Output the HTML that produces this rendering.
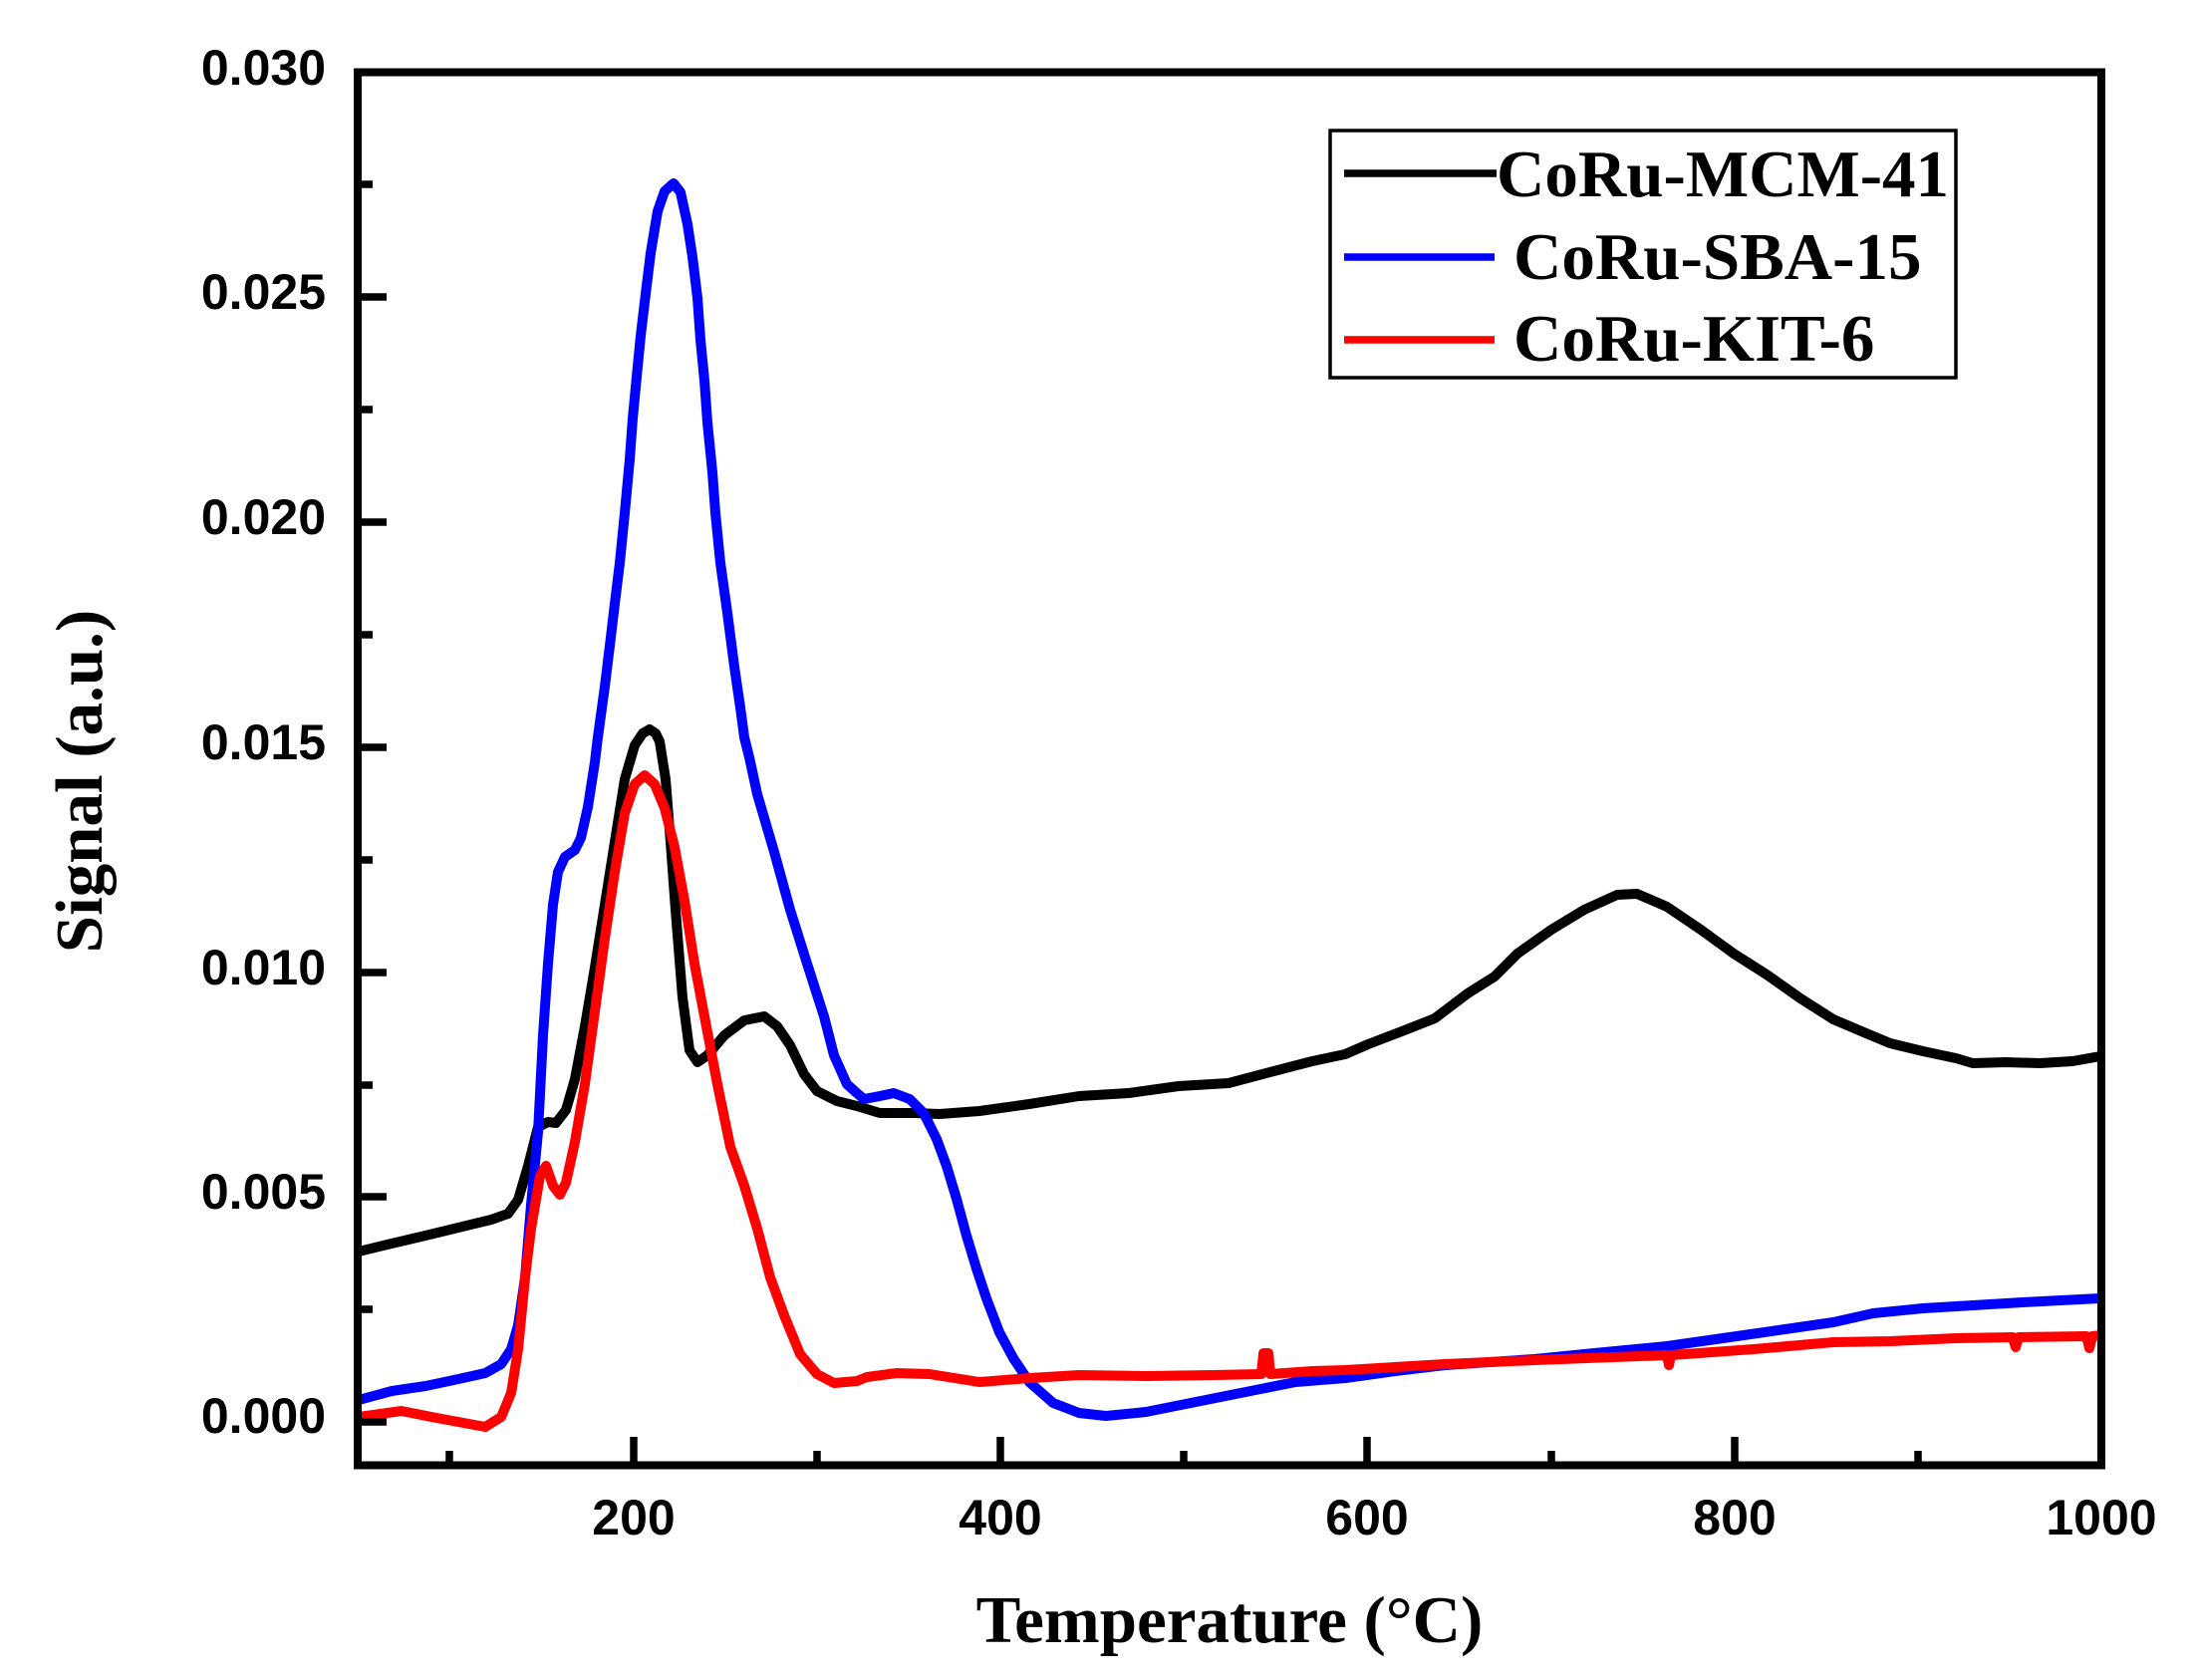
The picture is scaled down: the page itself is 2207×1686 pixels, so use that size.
<!DOCTYPE html>
<html>
<head>
<meta charset="utf-8">
<style>
html,body{margin:0;padding:0;background:#fff;}
svg{display:block;}
.tk{font-family:"Liberation Sans",Arial,sans-serif;font-weight:bold;font-size:50px;fill:#000;}
.ttl{font-family:"Liberation Serif","Times New Roman",serif;font-weight:bold;font-size:67px;fill:#000;}
</style>
</head>
<body>
<svg width="2207" height="1686" viewBox="0 0 2207 1686" xmlns="http://www.w3.org/2000/svg">
<rect x="0" y="0" width="2207" height="1686" fill="#fff"/>
<defs>
<clipPath id="pc"><rect x="363" y="76" width="1742" height="1391"/></clipPath>
</defs>

<g clip-path="url(#pc)" fill="none" stroke-width="10" stroke-linejoin="round" stroke-linecap="round">
<polyline stroke="#000" points="360,1256 393,1248 427,1240 460,1232 493,1224 510,1218 520,1204 530,1170 540,1131 550,1126 558,1127 568,1114 577,1083 587,1030 597,971 607,908 617,845 627,782 637,748 645,736 652,732 658,736 662,744 668,782 673,845 678,913 685,1001 692,1054 700,1066 710,1059 727,1039 747,1024 767,1020 780,1030 793,1049 807,1078 820,1095 840,1105 860,1110 883,1117 917,1117 943,1118 983,1115 1033,1108 1083,1100 1133,1097 1183,1090 1233,1087 1267,1078 1317,1065 1350,1058 1373,1048 1407,1035 1440,1022 1473,997 1500,980 1523,957 1557,933 1590,913 1623,898 1643,897 1673,910 1707,933 1740,957 1773,978 1807,1002 1840,1023 1873,1037 1897,1047 1930,1055 1963,1062 1980,1067 2013,1066 2047,1067 2080,1065 2108,1060"/>
<polyline stroke="#0000ff" points="360,1405 393,1396 427,1391 460,1384 487,1378 503,1369 513,1354 520,1330 527,1282 533,1209 540,1136 545,1039 550,967 555,908 560,875 567,860 577,853 583,841 590,810 597,765 600,740 607,689 612,648 617,606 622,565 627,515 632,461 635,420 639,378 643,337 648,295 653,254 660,212 667,192 676,184 683,193 690,225 695,258 700,299 703,341 707,382 710,424 715,474 718,515 723,565 730,615 737,669 743,710 747,740 752,760 760,797 777,855 793,913 810,967 827,1020 837,1059 850,1088 860,1097 867,1103 883,1100 897,1097 913,1103 927,1117 940,1143 950,1170 960,1203 970,1240 980,1273 990,1303 1003,1337 1017,1363 1033,1387 1057,1408 1083,1418 1110,1421 1150,1417 1200,1407 1250,1397 1300,1387 1350,1383 1400,1376 1450,1370 1540,1364 1600,1358 1673,1351 1750,1340 1840,1327 1880,1318 1930,1313 1980,1310 2030,1307 2108,1303"/>
<polyline stroke="#ff0000" points="360,1422 403,1416 433,1422 460,1427 487,1432 503,1422 513,1398 520,1354 527,1282 533,1233 542,1180 548,1170 555,1190 562,1199 568,1187 577,1146 587,1088 597,1015 607,942 617,875 627,816 637,787 647,778 657,787 667,811 677,850 687,904 697,967 707,1020 720,1088 733,1151 747,1190 760,1233 773,1282 787,1320 803,1359 820,1379 837,1388 860,1386 870,1382 900,1378 933,1379 983,1387 1033,1383 1083,1380 1150,1381 1217,1380 1266,1379 1268,1358 1273,1358 1275,1379 1317,1376 1350,1375 1450,1369 1540,1365 1673,1360 1675,1370 1677,1360 1760,1354 1840,1347 1897,1346 1963,1343 2020,1342 2023,1352 2026,1342 2094,1341 2097,1353 2100,1341 2108,1340"/>
</g>

<!-- axes frame -->
<rect x="359" y="72.5" width="1750" height="1398" fill="none" stroke="#000" stroke-width="8"/>

<!-- y ticks -->
<g stroke="#000" stroke-width="7.5">
<line x1="363" y1="298" x2="388" y2="298"/>
<line x1="363" y1="524" x2="388" y2="524"/>
<line x1="363" y1="750" x2="388" y2="750"/>
<line x1="363" y1="976" x2="388" y2="976"/>
<line x1="363" y1="1201" x2="388" y2="1201"/>
<line x1="363" y1="1427" x2="388" y2="1427"/>
<line x1="363" y1="185" x2="374" y2="185"/>
<line x1="363" y1="411" x2="374" y2="411"/>
<line x1="363" y1="637" x2="374" y2="637"/>
<line x1="363" y1="863" x2="374" y2="863"/>
<line x1="363" y1="1089" x2="374" y2="1089"/>
<line x1="363" y1="1314" x2="374" y2="1314"/>
</g>
<!-- x ticks -->
<g stroke="#000" stroke-width="7.5">
<line x1="636" y1="1467" x2="636" y2="1442"/>
<line x1="1004" y1="1467" x2="1004" y2="1442"/>
<line x1="1372" y1="1467" x2="1372" y2="1442"/>
<line x1="1741" y1="1467" x2="1741" y2="1442"/>
<line x1="451" y1="1467" x2="451" y2="1456"/>
<line x1="820" y1="1467" x2="820" y2="1456"/>
<line x1="1188" y1="1467" x2="1188" y2="1456"/>
<line x1="1557" y1="1467" x2="1557" y2="1456"/>
<line x1="1925" y1="1467" x2="1925" y2="1456"/>
</g>

<!-- y tick labels -->
<g class="tk" text-anchor="end">
<text x="327" y="85">0.030</text>
<text x="327" y="310">0.025</text>
<text x="327" y="536">0.020</text>
<text x="327" y="762">0.015</text>
<text x="327" y="988">0.010</text>
<text x="327" y="1213">0.005</text>
<text x="327" y="1438">0.000</text>
</g>
<!-- x tick labels -->
<g class="tk" text-anchor="middle">
<text x="636" y="1540">200</text>
<text x="1004" y="1540">400</text>
<text x="1372" y="1540">600</text>
<text x="1741" y="1540">800</text>
<text x="2109" y="1540">1000</text>
</g>

<!-- axis titles -->
<text class="ttl" x="1234" y="1648" text-anchor="middle">Temperature (°C)</text>
<text class="ttl" transform="translate(102,784) rotate(-90)" text-anchor="middle">Signal (a.u.)</text>

<!-- legend -->
<rect x="1335" y="131" width="628" height="248" fill="#fff" stroke="#000" stroke-width="3.5"/>
<g stroke-width="7.5">
<line x1="1349" y1="174" x2="1502" y2="174" stroke="#000"/>
<line x1="1349" y1="258" x2="1500" y2="258" stroke="#0000ff"/>
<line x1="1349" y1="341" x2="1500" y2="341" stroke="#ff0000"/>
</g>
<text class="ttl" x="1502" y="197">CoRu-MCM-41</text>
<text class="ttl" x="1519" y="280">CoRu-SBA-15</text>
<text class="ttl" x="1519" y="362">CoRu-KIT-6</text>
</svg>
</body>
</html>
